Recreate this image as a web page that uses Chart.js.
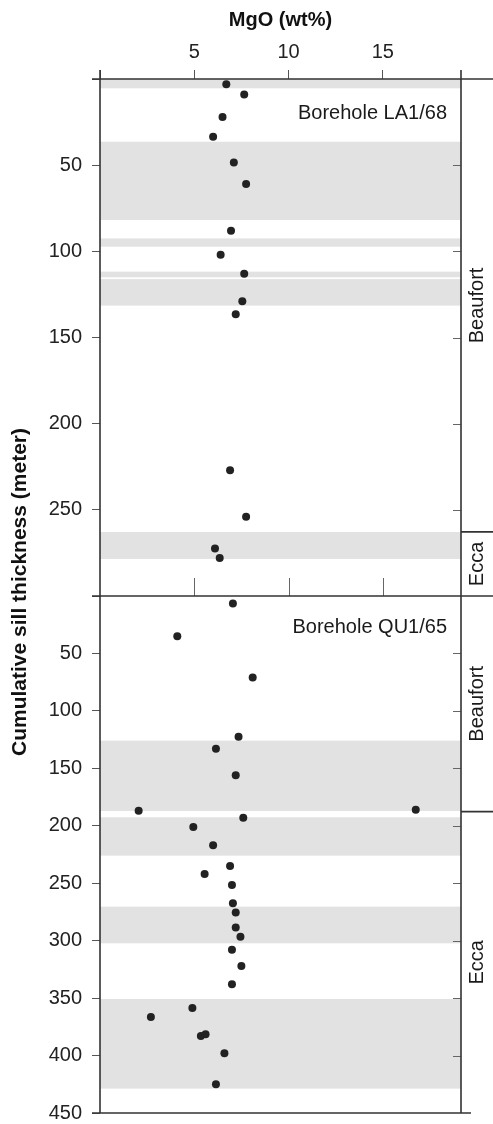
<!DOCTYPE html>
<html>
<head>
<meta charset="utf-8">
<script src="https://cdn.jsdelivr.net/npm/chart.js@4.4.1/dist/chart.umd.min.js"></script>
<style>
  html, body { margin: 0; padding: 0; background: #fff; }
</style>
</head>
<body>
<canvas id="chart" width="493" height="1124"></canvas>
<script>
// ===== Data =====
const mgoTicks = [5, 10, 15];

// Borehole LA1/68
const la168MgO   = [6.7, 7.65, 6.5, 6.0, 7.1, 7.75, 6.95, 6.4, 7.65, 7.55, 7.2, 6.9, 7.75, 6.1, 6.35];
const la168Depth = [3, 9, 22, 33.5, 48.5, 61, 88, 102, 113, 129, 136.5, 227, 254, 272.5, 278];
const la168Bands = [[0, 5.4], [36.4, 81.8], [92.5, 97.3], [111.8, 115.1], [116.1, 131.5], [262.9, 278.5]];
const la168Units = ["Beaufort", "Ecca"];
const la168UnitBounds = [0, 262.8, 300];

// Borehole QU1/65
const qu165MgO   = [7.05, 4.1, 8.1, 7.35, 6.15, 7.2, 2.05, 16.75, 7.6, 4.95, 6.0, 6.9, 5.55, 7.0,
                    7.05, 7.2, 7.2, 7.45, 7.0, 7.5, 7.0, 4.9, 2.7, 5.35, 5.6, 6.6, 6.15];
const qu165Depth = [6.5, 35, 71, 122.5, 133, 156, 187, 186, 193, 201, 217, 235, 242, 251.5,
                    267.5, 275.5, 288.5, 296.5, 308, 322, 338, 358.5, 366.5, 383, 381.5, 398, 425];
const qu165Bands = [[125.9, 187.1], [192.6, 226], [270.4, 302.3], [350.8, 428.8]];
const qu165Units = ["Beaufort", "Ecca"];
const qu165UnitBounds = [0, 187.7, 450];

const FONT = "'Liberation Sans', Arial, Helvetica, sans-serif";
Chart.defaults.font.family = FONT;

const panels = [
  { axis: "yTop", name: "Borehole LA1/68", bands: la168Bands, units: la168Units, bounds: la168UnitBounds, labelOff: 34 },
  { axis: "yBot", name: "Borehole QU1/65", bands: qu165Bands, units: qu165Units, bounds: qu165UnitBounds, labelOff: 31 }
];

function pts(xs, ys){ return xs.map((x,i)=>({ x, y: ys[i] })); }

// ===== Frame / bands / column plugin =====
const framePlugin = {
  id: "frame",
  beforeDatasetsDraw(chart){
    const { ctx, chartArea: a, scales } = chart;
    ctx.save();
    ctx.fillStyle = "#e2e2e2";
    for(const p of panels){
      const ys = scales[p.axis];
      for(const [d0, d1] of p.bands){
        const y0 = ys.getPixelForValue(d0), y1 = ys.getPixelForValue(d1);
        ctx.fillRect(a.left, y0, a.right - a.left, y1 - y0);
      }
    }
    ctx.restore();
  },
  afterDraw(chart){
    const { ctx, chartArea: a, scales, width } = chart;
    const mid = scales.yTop.bottom;
    ctx.save();

    // small inner ticks
    ctx.strokeStyle = "#666"; ctx.lineWidth = 1;
    ctx.beginPath();
    for(const v of mgoTicks){
      const x = Math.round(scales.x.getPixelForValue(v)) + 0.5;
      ctx.moveTo(x, mid - 18); ctx.lineTo(x, mid);
    }
    for(const p of panels){
      const ys = scales[p.axis];
      for(const t of ys.ticks){
        if(t.value <= ys.min || t.value >= ys.max) continue;
        const y = Math.round(ys.getPixelForValue(t.value)) + 0.5;
        ctx.moveTo(a.right - 8, y); ctx.lineTo(a.right, y);
      }
    }
    ctx.stroke();

    // frame lines
    ctx.strokeStyle = "#333"; ctx.lineWidth = 1.6;
    ctx.beginPath();
    ctx.moveTo(a.left - 8, a.top); ctx.lineTo(width, a.top);
    ctx.moveTo(a.left - 8, mid); ctx.lineTo(width, mid);
    ctx.moveTo(a.left - 8, a.bottom); ctx.lineTo(a.right + 10, a.bottom);
    ctx.moveTo(a.left, a.top - 9); ctx.lineTo(a.left, a.bottom);
    ctx.moveTo(a.right, a.top - 9); ctx.lineTo(a.right, a.bottom);
    for(const p of panels){
      const ys = scales[p.axis];
      for(let i = 1; i < p.bounds.length - 1; i++){
        const y = ys.getPixelForValue(p.bounds[i]);
        ctx.moveTo(a.right, y); ctx.lineTo(width, y);
      }
    }
    ctx.stroke();

    // labels
    ctx.fillStyle = "#1a1a1a";
    ctx.font = `20px ${FONT}`;
    for(const p of panels){
      const ys = scales[p.axis];
      ctx.textAlign = "right"; ctx.textBaseline = "middle";
      ctx.fillText(p.name, a.right - 14, ys.top + p.labelOff);
      for(let i = 0; i < p.units.length; i++){
        const yc = (ys.getPixelForValue(p.bounds[i]) + ys.getPixelForValue(p.bounds[i+1])) / 2;
        ctx.save();
        ctx.translate(a.right + 16, yc);
        ctx.rotate(-Math.PI/2);
        ctx.textAlign = "center"; ctx.textBaseline = "middle";
        ctx.fillText(p.units[i], 0, 0);
        ctx.restore();
      }
    }

    // y title
    ctx.save();
    ctx.font = `bold 21px ${FONT}`;
    ctx.fillStyle = "#111";
    ctx.translate(20, (a.top + a.bottom) / 2 - 4);
    ctx.rotate(-Math.PI/2);
    ctx.textAlign = "center"; ctx.textBaseline = "middle";
    ctx.fillText("Cumulative sill thickness (meter)", 0, 0);
    ctx.restore();

    ctx.restore();
  }
};

function depthAxis(max){
  return {
    type: "linear", position: "left", stack: "depth", stackWeight: 1,
    reverse: true, min: 0, max,
    ticks: {
      stepSize: 50, autoSkip: false, color: "#222", font: { size: 20 }, padding: 10,
      callback: v => (v === 0 || v === 300 && max === 300) ? "" : v
    },
    grid: { drawOnChartArea: false, tickLength: 8, color: "#555" },
    border: { display: false },
    afterFit: s => { s.width = 100; s.paddingTop = 0; s.paddingBottom = 0; }
  };
}

new Chart(document.getElementById("chart"), {
  type: "scatter",
  data: {
    datasets: [
      { label: "LA1/68", data: pts(la168MgO, la168Depth), xAxisID: "x", yAxisID: "yTop",
        pointRadius: 4, backgroundColor: "#222", borderWidth: 0 },
      { label: "QU1/65", data: pts(qu165MgO, qu165Depth), xAxisID: "x", yAxisID: "yBot",
        pointRadius: 4, backgroundColor: "#222", borderWidth: 0 }
    ]
  },
  options: {
    responsive: false,
    animation: false,
    layout: { padding: { left: 0, right: 32, top: 0, bottom: 11 } },
    plugins: { legend: { display: false }, tooltip: { enabled: false } },
    scales: {
      x: {
        type: "linear", position: "top", min: 0, max: 19.15,
        ticks: { stepSize: 5, includeBounds: false, autoSkip: false, color: "#222", font: { size: 20 }, padding: 6,
                 callback: v => mgoTicks.includes(v) ? v : "" },
        grid: { drawOnChartArea: false, tickLength: 9, color: "#555" },
        border: { display: false },
        title: { display: true, text: "MgO (wt%)", color: "#111",
                 font: { size: 20, weight: "bold" }, padding: { top: 8, bottom: 0 } },
        afterFit: s => { s.height = 79; s.paddingLeft = 0; s.paddingRight = 0; }
      },
      yBot: depthAxis(450),
      yTop: depthAxis(300)
    }
  },
  plugins: [framePlugin]
});
</script>
</body>
</html>
